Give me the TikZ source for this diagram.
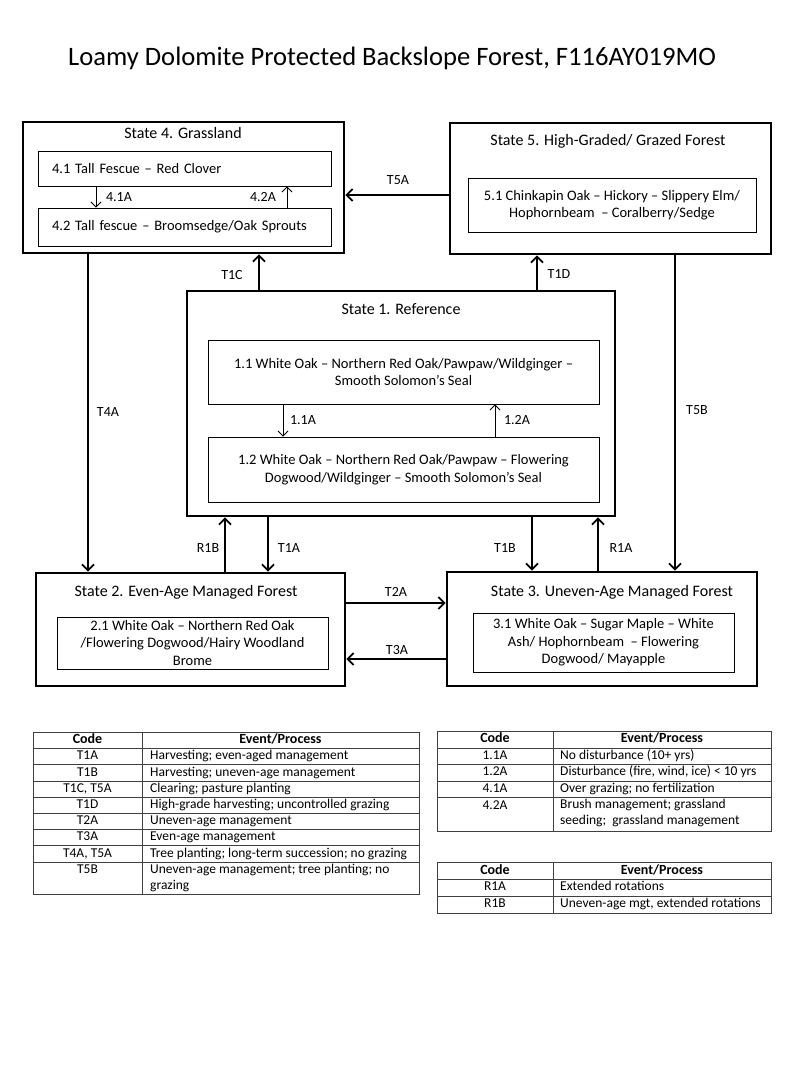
\documentclass[tikz,border=0pt]{standalone}
\usepackage{fontspec}
\setmainfont{Carlito}
\usetikzlibrary{arrows.meta}
\tikzset{
  state/.style={draw,line width=2.8pt,inner sep=0pt},
  sub/.style={draw,line width=0.9pt,inner sep=0pt,align=center,font=\fontsize{14.5}{17.5}\selectfont},
  stitle/.style={font=\fontsize{16}{19}\selectfont},
  tr/.style={line width=1.8pt,-{Straight Barb[length=6pt,width=12pt]}},
  trin/.style={line width=0.9pt,-{Straight Barb[length=5pt,width=10pt]}},
  lbl/.style={font=\fontsize{14}{16}\selectfont,inner sep=0pt},
  tbl/.style={draw=black!75,line width=0.8pt},
  cell/.style={font=\fontsize{13.5}{16}\selectfont,inner sep=0pt,text height=9.5pt,text depth=3pt},
  cellw/.style={font=\fontsize{13.5}{16}\selectfont,inner sep=0pt,align=left,anchor=north west},
  head/.style={font=\fontsize{14}{16}\selectfont\bfseries,inner sep=0pt,text height=9.5pt,text depth=3pt}
}
\begin{document}
\begin{tikzpicture}[x=1pt,y=-1pt]
\useasboundingbox[fill=white] (0,0) rectangle (800,1067);
\node[font=\fontsize{26.6}{30}\selectfont] (title) at (392,58) {Loamy Dolomite Protected Backslope Forest, F116AY019MO};

% states
\node[state,minimum width=321pt,minimum height=131pt] (s4) at (183.5,187.5) {};
\node[stitle] (s4t) at (183,133) {State 4. Grassland};
\node[sub,minimum width=293pt,minimum height=35pt,text width=265pt,align=left,inner xsep=14pt] (n41) at (184.5,168.5) {4.1 Tall Fescue -- Red Clover};
\node[sub,minimum width=293pt,minimum height=38pt,text width=265pt,align=left,inner xsep=14pt] (n42) at (184.5,227) {4.2 Tall fescue -- Broomsedge/Oak Sprouts};

\node[state,minimum width=321pt,minimum height=131pt] (s5) at (610.5,188.5) {};
\node[stitle] (s5t) at (608,141) {State 5. High-Graded/ Grazed Forest};
\node[sub,minimum width=288pt,minimum height=54pt] (n51) at (612,205) {5.1 Chinkapin Oak -- Hickory -- Slippery Elm/\\Hophornbeam\ \ -- Coralberry/Sedge};

\node[state,minimum width=428pt,minimum height=225pt] (s1) at (401,403.5) {};
\node[stitle] (s1t) at (401,309) {State 1. Reference};
\node[sub,minimum width=391pt,minimum height=64pt] (n11) at (403.5,372) {1.1 White Oak -- Northern Red Oak/Pawpaw/Wildginger --\\Smooth Solomon’s Seal};
\node[sub,minimum width=391pt,minimum height=65pt] (n12) at (403.5,469.5) {1.2 White Oak -- Northern Red Oak/Pawpaw -- Flowering\\Dogwood/Wildginger -- Smooth Solomon’s Seal};

\node[state,minimum width=309pt,minimum height=113pt] (s2) at (190.5,629.5) {};
\node[stitle] (s2t) at (186,592) {State 2. Even-Age Managed Forest};
\node[sub,minimum width=271pt,minimum height=52pt] (n21) at (192.5,643) {2.1 White Oak -- Northern Red Oak\\/Flowering Dogwood/Hairy Woodland\\Brome};

\node[state,minimum width=310pt,minimum height=114pt] (s3) at (602,629) {};
\node[stitle] (s3t) at (612,592) {State 3. Uneven-Age Managed Forest};
\node[sub,minimum width=261pt,minimum height=59pt] (n31) at (603.5,642.5) {3.1 White Oak -- Sugar Maple -- White\\Ash/ Hophornbeam\ \ -- Flowering\\Dogwood/ Mayapple};

% where the connectors run
\foreach \n/\x in {xT4A/88,x41A/96,xR1B/225,xT1C/259,xT1A/268,x11A/283,x42A/287,x12A/495,xT1B/532,xT1D/537,xR1A/598,xT5B/675}
  \coordinate (\n) at (\x,0);
\foreach \n/\y in {yT5A/195,yT2A/603,yT3A/659}
  \coordinate (\n) at (0,\y);

% transitions
\draw[tr] (s5.west |- yT5A) -- (s4.east |- yT5A);
\draw[tr] (s1.north -| xT1C) -- (s4.south -| xT1C);
\draw[tr] (s1.north -| xT1D) -- (s5.south -| xT1D);
\draw[tr] (s4.south -| xT4A) -- (s2.north -| xT4A);
\draw[tr] (s5.south -| xT5B) -- (s3.north -| xT5B);
\draw[tr] (s2.north -| xR1B) -- (s1.south -| xR1B);
\draw[tr] (s1.south -| xT1A) -- (s2.north -| xT1A);
\draw[tr] (s1.south -| xT1B) -- (s3.north -| xT1B);
\draw[tr] (s3.north -| xR1A) -- (s1.south -| xR1A);
\draw[tr] (s2.east |- yT2A) -- (s3.west |- yT2A);
\draw[tr] (s3.west |- yT3A) -- (s2.east |- yT3A);
% community pathways
\draw[trin] (n41.south -| x41A) -- (n42.north -| x41A);
\draw[trin] (n42.north -| x42A) -- (n41.south -| x42A);
\draw[trin] (n11.south -| x11A) -- (n12.north -| x11A);
\draw[trin] (n12.north -| x12A) -- (n11.south -| x12A);

\foreach \t/\x/\y in {T5A/398/180,T1C/232/275,T1D/559/274,T4A/108/412,T5B/697/410,R1B/208/548,T1A/289/548,T1B/505/548,R1A/621/548,T2A/396/592,T3A/397/650}
  \node[lbl] (l\t) at (\x,\y) {\t};
\foreach \t/\n/\x/\y in {4.1A/a/119/197,4.2A/b/263/197,1.1A/c/303/420,1.2A/d/517/420}
  \node[lbl] (lp\n) at (\x,\y) {\t};

% left table
\draw[tbl] (33,732) rectangle (419,894);
\draw[tbl] (142,732) -- (142,894);
\foreach \y in {748.5,764.5,781,797,813,829,845.5,862}
  \draw[tbl] (33,\y) -- (419,\y);
\node[head] (lhc) at (87.5,740.5) {Code};
\node[head] (lhe) at (280.5,740.5) {Event/Process};
\foreach \c/\e [count=\i] in {T1A/{Harvesting; even-aged management},T1B/{Harvesting; uneven-age management},{T1C, T5A}/{Clearing; pasture planting},T1D/{High-grade harvesting; uncontrolled grazing},T2A/{Uneven-age management},T3A/{Even-age management},{T4A, T5A}/{Tree planting; long-term succession; no grazing}}{
  \node[cell] (lc\i) at (87.5,{740.5+16.2*\i}) {\c};
  \node[cell,anchor=west] (le\i) at (150,{740.5+16.2*\i}) {\e};
}
\node[cell] (lc8) at (87.5,870) {T5B};
\node[cellw] (le8) at (150,863.5) {Uneven-age management; tree planting; no\\grazing};

% right tables
\draw[tbl] (437,731) rectangle (771,831);
\draw[tbl] (553,731) -- (553,831);
\foreach \y in {748,764.5,781,797.5}
  \draw[tbl] (437,\y) -- (771,\y);
\node[head] (rhc) at (495,739.5) {Code};
\node[head] (rhe) at (662,739.5) {Event/Process};
\foreach \c/\e [count=\i] in {1.1A/{No disturbance (10+ yrs)},1.2A/{Disturbance (fire, wind, ice) < 10 yrs},4.1A/{Over grazing; no fertilization}}{
  \node[cell] (rc\i) at (495,{739.5+16.5*\i}) {\c};
  \node[cell,anchor=west] (re\i) at (560,{739.5+16.5*\i}) {\e};
}
\node[cell] (rc4) at (495,806) {4.2A};
\node[cellw] (re4) at (560,799) {Brush management; grassland\\seeding;\ \ grassland management};

\draw[tbl] (437,862) rectangle (771,913);
\draw[tbl] (553,862) -- (553,913);
\foreach \y in {879.5,896}
  \draw[tbl] (437,\y) -- (771,\y);
\node[head] (qhc) at (495,871) {Code};
\node[head] (qhe) at (662,871) {Event/Process};
\node[cell] (qc1) at (495,887.5) {R1A};
\node[cell,anchor=west] (qe1) at (560,887.5) {Extended rotations};
\node[cell] (qc2) at (495,904.5) {R1B};
\node[cell,anchor=west] (qe2) at (560,904.5) {Uneven-age mgt, extended rotations};
\end{tikzpicture}
\end{document}
